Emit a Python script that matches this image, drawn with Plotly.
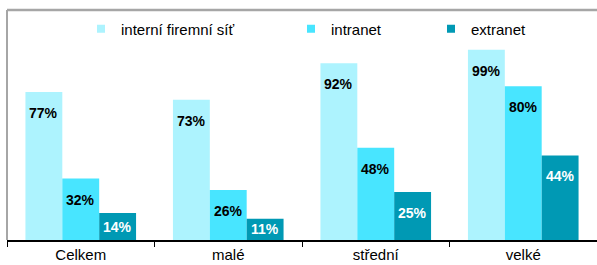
import plotly.graph_objects as go

categories = ["Celkem", "malé", "střední", "velké"]
series_names = ["interní firemní síť", "intranet", "extranet"]
interni = [77, 73, 92, 99]
intranet = [32, 26, 48, 80]
extranet = [14, 11, 25, 44]
series_values = [interni, intranet, extranet]

colors = ["#ADF3FE", "#48E5FF", "#0099B4"]
label_colors = ["#000000", "#000000", "#FFFFFF"]

W, H = 597, 265
m_l, m_r, m_t, m_b = 7, 0, 10, 25
px_per_unit = 1.922
plot_h = H - m_t - m_b
y_max = plot_h / px_per_unit

legend_ids = ["legend", "legend2", "legend3"]
legend_x_px = [81, 291, 431]

fig = go.Figure()
for name, vals, col in zip(series_names, series_values, colors):
    fig.add_trace(go.Bar(x=categories, y=vals, name=name, marker_color=col,
                         marker_line_width=0, showlegend=False, hoverinfo="skip"))
for name, col, lid in zip(series_names, colors, legend_ids):
    fig.add_trace(go.Scatter(x=[None], y=[None], mode="markers", name=name, legend=lid,
                             marker=dict(symbol="square", size=8, color=col)))

bar_w = 0.25
annotations = []
for si, (vals, lc) in enumerate(zip(series_values, label_colors)):
    off = (si - 1) * bar_w
    for ci, v in enumerate(vals):
        bar_px = v * px_per_unit
        shift = -min(21, bar_px / 2)
        annotations.append(dict(x=ci + off, y=v, xref="x", yref="y", text=f"<b>{v}%</b>",
                                showarrow=False, yshift=shift, yanchor="middle",
                                font=dict(family="Liberation Sans, Arial", size=14, color=lc)))

plot_w = W - m_l - m_r
leg_common = dict(orientation="h", xanchor="left", yanchor="middle", y=1 - (29 - m_t) / plot_h,
                  font=dict(size=15), itemwidth=30, bgcolor="rgba(0,0,0,0)")
legends = {}
for lid, lx in zip(legend_ids, legend_x_px):
    legends[lid] = dict(leg_common, x=(lx - m_l) / plot_w)

fig.update_layout(
    width=W, height=H,
    margin=dict(l=m_l, r=m_r, t=m_t, b=m_b, autoexpand=False),
    paper_bgcolor="white", plot_bgcolor="white",
    barmode="group", bargap=0.25, bargroupgap=0,
    font=dict(family="Liberation Sans, Arial", size=15, color="#000000"),
    showlegend=True,
    annotations=annotations,
    shapes=[
        dict(type="line", xref="paper", yref="paper", x0=0, x1=1, y0=1, y1=1,
             line=dict(color="#A6A6A6", width=2.5)),
        dict(type="line", xref="paper", yref="paper", x0=0, x1=0, y0=0, y1=1,
             line=dict(color="#A6A6A6", width=2)),
    ],
    **legends,
)
fig.update_xaxes(type="category", showline=True, linecolor="#000000", linewidth=1.5,
                 ticks="outside", tickson="boundaries", ticklen=5, tickcolor="#000000",
                 tickwidth=1, showgrid=False, tickfont=dict(size=15), range=[-0.5, 3.5])
fig.update_yaxes(range=[0, y_max], showgrid=False, showticklabels=False, zeroline=False,
                 showline=False)

fig.write_html("out.html", config={"displayModeBar": False},
               post_script="document.body.style.margin='0';document.body.style.overflow='hidden';")
